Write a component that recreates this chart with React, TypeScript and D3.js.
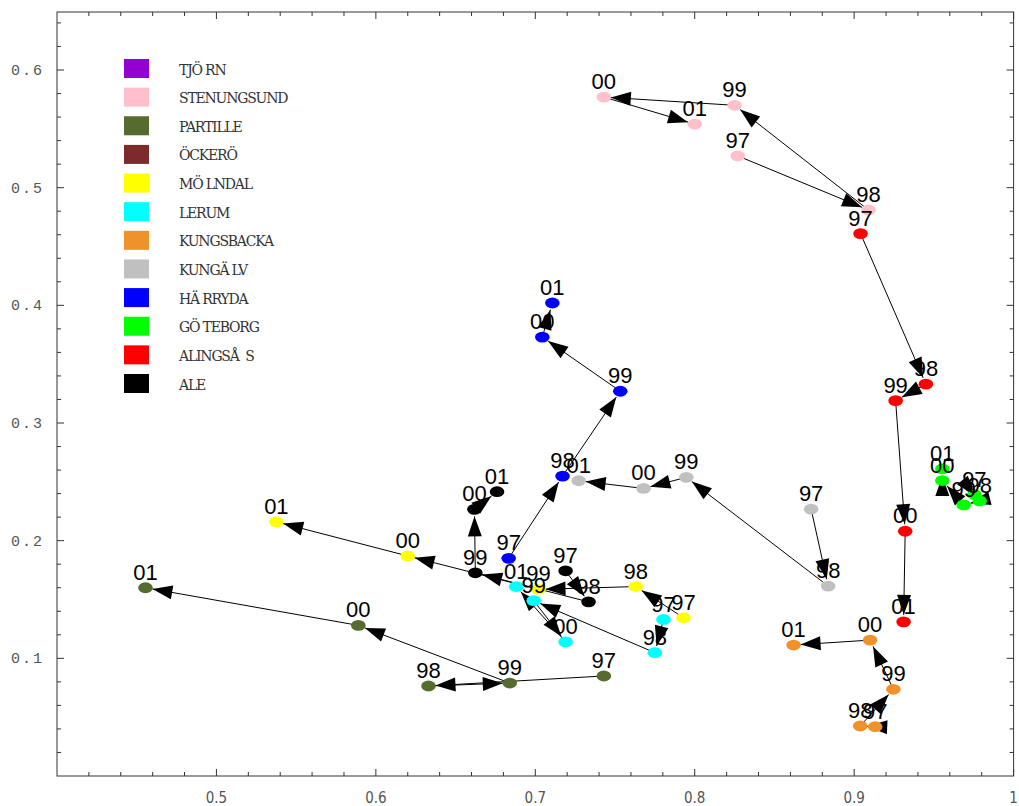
import React from "react";
import * as d3 from "d3";

const years = ["97", "98", "99", "00", "01"];

const legendNames = [
  "TJÖ RN", "STENUNGSUND", "PARTILLE", "ÖCKERÖ", "MÖ LNDAL", "LERUM",
  "KUNGSBACKA", "KUNGÄ LV", "HÄ RRYDA", "GÖ TEBORG", "ALINGSÅ  S", "ALE",
];
const legendColors = [
  "#9400D3", "#FFC0CB", "#556B2F", "#7F2A2A", "#FFFF00", "#00FFFF",
  "#F0922A", "#C0C0C0", "#0000FF", "#00FF00", "#FF0000", "#000000",
];

// series (index into legend), x and y values for 97..01
const stenungsundX = [0.827, 0.909, 0.825, 0.743, 0.8];
const stenungsundY = [0.527, 0.481, 0.57, 0.577, 0.554];
const partilleX = [0.743, 0.633, 0.684, 0.589, 0.4555];
const partilleY = [0.085, 0.0765, 0.079, 0.128, 0.16];
const molndalX = [0.793, 0.763, 0.702, 0.62, 0.5376];
const molndalY = [0.1345, 0.161, 0.1586, 0.187, 0.216];
const lerumX = [0.7804, 0.775, 0.699, 0.719, 0.688];
const lerumY = [0.133, 0.1048, 0.149, 0.114, 0.161];
const kungsbackaX = [0.9132, 0.9038, 0.9246, 0.91, 0.862];
const kungsbackaY = [0.0419, 0.0425, 0.0737, 0.1155, 0.1113];
const kungalvX = [0.873, 0.8837, 0.7947, 0.7679, 0.7272];
const kungalvY = [0.2268, 0.1614, 0.2538, 0.2444, 0.2509];
const harrydaX = [0.6833, 0.7171, 0.7533, 0.7044, 0.7107];
const harrydaY = [0.185, 0.2549, 0.327, 0.373, 0.402];
const goteborgX = [0.9754, 0.9787, 0.9687, 0.9553, 0.9553];
const goteborgY = [0.2392, 0.2338, 0.2304, 0.2511, 0.261];
const alingsasX = [0.904, 0.945, 0.926, 0.932, 0.931];
const alingsasY = [0.461, 0.333, 0.319, 0.208, 0.131];
const aleX = [0.719, 0.7334, 0.6624, 0.6618, 0.676];
const aleY = [0.1744, 0.148, 0.1727, 0.2266, 0.2416];

const seriesList = [
  { idx: 1, xs: stenungsundX, ys: stenungsundY },
  { idx: 2, xs: partilleX, ys: partilleY },
  { idx: 4, xs: molndalX, ys: molndalY },
  { idx: 5, xs: lerumX, ys: lerumY },
  { idx: 6, xs: kungsbackaX, ys: kungsbackaY },
  { idx: 7, xs: kungalvX, ys: kungalvY },
  { idx: 8, xs: harrydaX, ys: harrydaY },
  { idx: 9, xs: goteborgX, ys: goteborgY },
  { idx: 10, xs: alingsasX, ys: alingsasY },
  { idx: 11, xs: aleX, ys: aleY },
];

const xMajor = [0.5, 0.6, 0.7, 0.8, 0.9, 1.0];
const xMajorLabels = ["0.5", "0.6", "0.7", "0.8", "0.9", "1"];
const yMajor = [0.1, 0.2, 0.3, 0.4, 0.5, 0.6];
const yMajorLabels = ["0.1", "0.2", "0.3", "0.4", "0.5", "0.6"];

export default function App() {
  const W = 1019, H = 806;
  const L = 57, R = 1013.6, T = 12, B = 776;
  const x = d3.scaleLinear().domain([0.4, 1.0]).range([L, R]);
  const y = d3.scaleLinear().domain([0, 0.6]).range([B, 70]);
  const yTop = y.invert(T);

  const xMinor = d3.range(0.42, 1.0, 0.02).filter(v => !xMajor.some(m => Math.abs(m - v) < 1e-6));
  const yMinor = d3.range(0.02, yTop, 0.02).filter(v => !yMajor.some(m => Math.abs(m - v) < 1e-6));

  const tickCol = "#333";
  const ticks: JSX.Element[] = [];
  let k = 0;
  const addX = (v: number, len: number) => {
    const px = x(v);
    ticks.push(<line key={k++} x1={px} x2={px} y1={B} y2={B - len} stroke={tickCol} strokeWidth={1} />);
    ticks.push(<line key={k++} x1={px} x2={px} y1={T} y2={T + len} stroke={tickCol} strokeWidth={1} />);
  };
  const addY = (v: number, len: number) => {
    const py = y(v);
    ticks.push(<line key={k++} x1={L} x2={L + len} y1={py} y2={py} stroke={tickCol} strokeWidth={1} />);
    ticks.push(<line key={k++} x1={R} x2={R - len} y1={py} y2={py} stroke={tickCol} strokeWidth={1} />);
  };
  xMinor.forEach(v => addX(v, 4));
  xMajor.forEach(v => addX(v, 7));
  yMinor.forEach(v => addY(v, 4));
  yMajor.forEach(v => addY(v, 7));

  const arrows: JSX.Element[] = [];
  const points: JSX.Element[] = [];
  const labels: JSX.Element[] = [];
  const headLen = 20, headHalf = 7, tipOff = 7;
  seriesList.forEach((s, si) => {
    const color = legendColors[s.idx];
    const pts = s.xs.map((v, i) => [x(v), y(s.ys[i])]);
    for (let i = 0; i < pts.length - 1; i++) {
      const [x1, y1] = pts[i];
      const [x2, y2] = pts[i + 1];
      const dx = x2 - x1, dy = y2 - y1;
      const dd = Math.hypot(dx, dy) || 1;
      const ux = dx / dd, uy = dy / dd;
      const tx = x2 - ux * tipOff, ty = y2 - uy * tipOff;
      const bx = tx - ux * headLen, by = ty - uy * headLen;
      const px = -uy, py = ux;
      arrows.push(<line key={`l${si}-${i}`} x1={x1} y1={y1} x2={tx} y2={ty} stroke="#000" strokeWidth={1} />);
      arrows.push(
        <polygon key={`h${si}-${i}`}
          points={`${tx},${ty} ${bx + px * headHalf},${by + py * headHalf} ${bx - px * headHalf},${by - py * headHalf}`}
          fill="#000" />
      );
    }
    pts.forEach(([px, py], i) => {
      points.push(<ellipse key={`p${si}-${i}`} cx={px} cy={py} rx={7.3} ry={5.4} fill={color} />);
      labels.push(
        <text key={`t${si}-${i}`} x={px} y={py - 8} textAnchor="middle"
          fontFamily="'Liberation Sans', Arial, sans-serif" fontSize={22} fill="#000">
          {years[i]}
        </text>
      );
    });
  });

  const legendStep = (374 - 59) / 11;

  return (
    <svg width={W} height={H} style={{ position: "absolute", left: 0, top: 0, background: "#fff" }}>
      <rect x={0} y={0} width={W} height={H} fill="#fff" />
      <rect x={L} y={T} width={R - L} height={B - T} fill="none" stroke="#333" strokeWidth={1} />
      {ticks}
      {xMajor.map((v, i) => (
        <text key={`xl${i}`} x={x(v)} y={803} textAnchor="middle"
          fontFamily="'DejaVu Sans Condensed', 'Liberation Sans Narrow', 'Liberation Sans', sans-serif"
          fontSize={15} fill="#555">{xMajorLabels[i]}</text>
      ))}
      {yMajor.map((v, i) => (
        <text key={`yl${i}`} x={11} y={y(v) + 5} textAnchor="start"
          fontFamily="'Liberation Mono', 'DejaVu Sans Mono', monospace"
          fontSize={15} letterSpacing={2} fill="#555">{yMajorLabels[i]}</text>
      ))}
      {legendNames.map((n, i) => (
        <g key={`lg${i}`}>
          <rect x={124} y={59 + i * legendStep} width={25} height={19} fill={legendColors[i]} />
          <text x={179} y={59 + i * legendStep + 15.5} fontFamily="'DejaVu Serif', serif"
            fontSize={14} letterSpacing={-1.2} fill="#333" style={{ whiteSpace: "pre" }}>{n}</text>
        </g>
      ))}
      {arrows}
      {points}
      {labels}
    </svg>
  );
}
